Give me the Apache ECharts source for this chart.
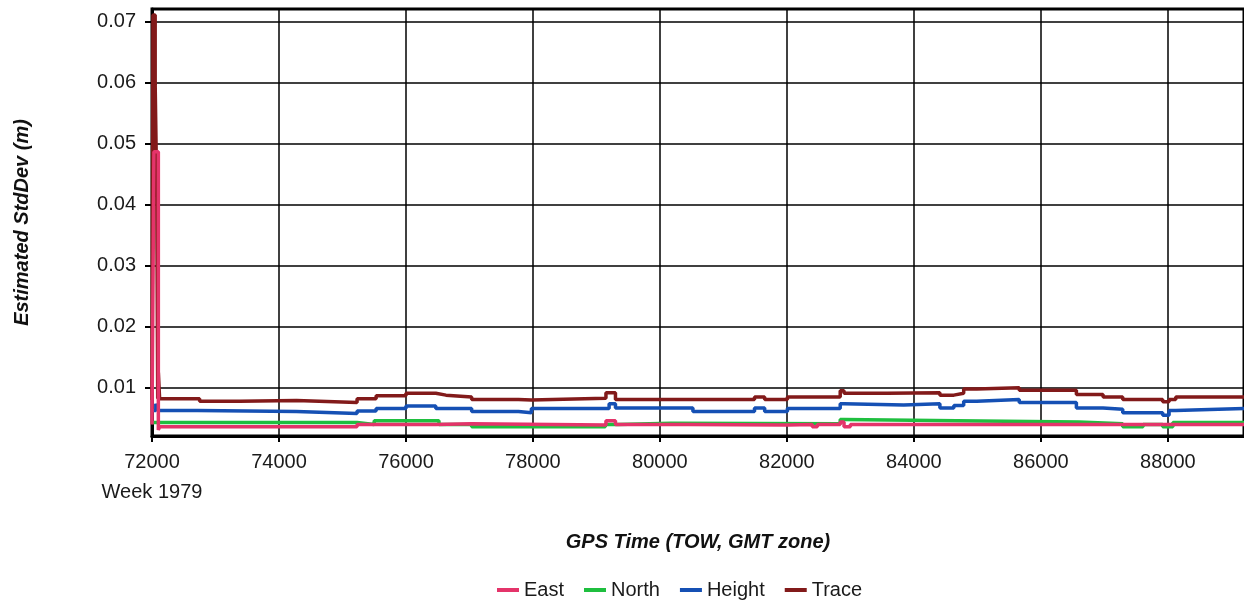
<!DOCTYPE html>
<html>
<head>
<meta charset="utf-8">
<script src="https://cdn.jsdelivr.net/npm/echarts@6/dist/echarts.min.js"></script>
<style>
html,body{margin:0;padding:0;background:#fff;}
#chart{width:1244px;height:607px;}
</style>
</head>
<body>
<div id="chart"></div>
<script>
// Series names (legend order)
const seriesNames = ['East', 'North', 'Height', 'Trace'];
const seriesColors = ['#e4346a', '#1fbf3f', '#1550b4', '#821a1a'];

// [GPS time (s), estimated std dev (m)] - value holds until next time
const eastData = [
  [72000, 0.0040], [72030, 0.0487], [72100, 0.0031], [72120, 0.0036],
  [75230, 0.0040], [76470, 0.0041], [77035, 0.0039], [79150, 0.0046],
  [79300, 0.0040], [80440, 0.0039], [82008, 0.0040], [82400, 0.0036],
  [82480, 0.0040], [82840, 0.0044], [82900, 0.0036], [83000, 0.0040],
  [89200, 0.0040]
];
const northData = [
  [72000, 0.0043], [75230, 0.0040], [75500, 0.0046], [76520, 0.0040],
  [77035, 0.0036], [79140, 0.0040], [79340, 0.0042], [80170, 0.0041],
  [82840, 0.0048], [82900, 0.0046], [84675, 0.0044], [86600, 0.0041],
  [87290, 0.0036], [87610, 0.0040], [87920, 0.0036], [88080, 0.0043],
  [89200, 0.0043]
];
const heightData = [
  [72000, 0.0063], [72060, 0.0074], [72090, 0.0063], [72720, 0.0061],
  [74275, 0.0058], [75230, 0.0062], [75530, 0.0066], [76000, 0.0070],
  [76470, 0.0066], [77035, 0.0061], [77772, 0.0059], [77976, 0.0066],
  [79200, 0.0074], [79300, 0.0067], [80520, 0.0061], [81490, 0.0067],
  [81650, 0.0061], [82008, 0.0066], [82840, 0.0074], [82900, 0.0072],
  [83840, 0.0074], [84410, 0.0067], [84630, 0.0071], [84785, 0.0078],
  [84990, 0.0081], [85660, 0.0076], [86560, 0.0067], [86980, 0.0065],
  [87290, 0.0059], [87920, 0.0055], [88020, 0.0063], [88125, 0.0066],
  [89200, 0.0066]
];
const traceData = [
  [72000, 0.0080], [72015, 0.0711], [72050, 0.0597], [72075, 0.0420],
  [72090, 0.0082], [72100, 0.0125], [72120, 0.0082], [72750, 0.0078],
  [73380, 0.0079], [74275, 0.0076], [75230, 0.0082], [75530, 0.0087],
  [76000, 0.0091], [76470, 0.0088], [76630, 0.0085], [77035, 0.0081],
  [77772, 0.0080], [77976, 0.0083], [79150, 0.0092], [79300, 0.0081],
  [81490, 0.0085], [81650, 0.0081], [82008, 0.0085], [82840, 0.0095],
  [82900, 0.0091], [83580, 0.0092], [84410, 0.0088], [84630, 0.0091],
  [84785, 0.0098], [84990, 0.0100], [85660, 0.0096], [86560, 0.0089],
  [86980, 0.0085], [87290, 0.0081], [87920, 0.0077], [88020, 0.0081],
  [88125, 0.0085], [89200, 0.0085]
];

// Axis settings
const xMin = 72000, xMax = 89200, xStep = 2000;
const yMin = 0.0021, yMax = 0.0721;
const weekLabel = 'Week 1979';
const xTitle = 'GPS Time (TOW, GMT zone)';
const yTitle = 'Estimated StdDev (m)';

const FONT = '"Liberation Sans", Arial, sans-serif';
const dataBySeries = { East: eastData, North: northData, Height: heightData, Trace: traceData };
const drawOrder = ['Trace', 'Height', 'North', 'East'];

const chart = echarts.init(document.getElementById('chart'), null, { renderer: 'canvas' });
chart.setOption({
  animation: false,
  backgroundColor: '#fff',
  grid: { left: 152, top: 9, right: -5, bottom: 171, show: true, borderColor: '#000', borderWidth: 3 },
  legend: {
    data: seriesNames.map((n, i) => ({ name: n, itemStyle: { color: seriesColors[i] } })),
    left: 492, top: 575,
    icon: 'rect', itemWidth: 22, itemHeight: 4, itemGap: 20,
    textStyle: { fontFamily: FONT, fontSize: 20, color: '#1a1a1a' }
  },
  xAxis: {
    type: 'value', min: xMin, max: xMax, interval: xStep,
    name: xTitle, nameLocation: 'middle', nameGap: 96,
    nameTextStyle: { fontFamily: FONT, fontSize: 20, fontWeight: 'bold', fontStyle: 'italic', color: '#111' },
    axisLine: { show: true, onZero: false, lineStyle: { color: '#000', width: 3 } },
    axisTick: { show: true, length: 6, lineStyle: { color: '#000', width: 2 } },
    splitLine: { show: true, lineStyle: { color: '#000', width: 1.5 } },
    axisLabel: {
      fontFamily: FONT, fontSize: 20, color: '#1a1a1a', margin: 11, lineHeight: 30,
      showMaxLabel: false,
      formatter: v => v === xMin ? v + '\n' + weekLabel : String(v)
    }
  },
  yAxis: {
    type: 'value', min: yMin, max: yMax, splitNumber: 7,
    name: yTitle, nameLocation: 'middle', nameGap: 120,
    nameTextStyle: { fontFamily: FONT, fontSize: 20, fontWeight: 'bold', fontStyle: 'italic', color: '#111' },
    axisLine: { show: true, lineStyle: { color: '#000', width: 3 } },
    axisTick: { show: true, length: 7, lineStyle: { color: '#000', width: 2 } },
    splitLine: { show: true, lineStyle: { color: '#000', width: 1.5 } },
    axisLabel: {
      fontFamily: FONT, fontSize: 20, color: '#1a1a1a', margin: 16,
      showMinLabel: false, showMaxLabel: false,
      formatter: v => v.toFixed(2)
    }
  },
  series: drawOrder.map(n => ({
    name: n, type: 'line', step: 'end', symbol: 'none',
    data: dataBySeries[n],
    lineStyle: { width: 3.5, color: seriesColors[seriesNames.indexOf(n)] },
    itemStyle: { color: seriesColors[seriesNames.indexOf(n)] },
    emphasis: { disabled: true }
  }))
});
</script>
</body>
</html>
